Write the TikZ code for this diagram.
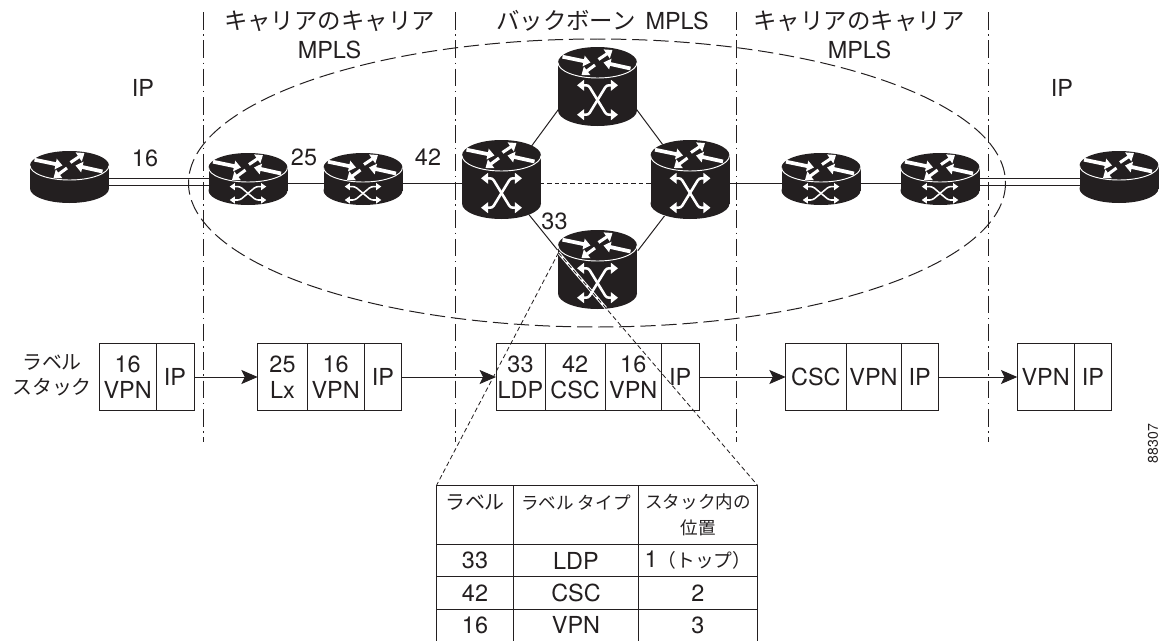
\documentclass[tikz,border=0pt]{standalone}
\usepackage{fontspec}
\setmainfont{TeX Gyre Heros}
\newfontfamily\jafont{Noto Sans CJK JP}
\usetikzlibrary{arrows.meta, calc, positioning}

\definecolor{ink}{HTML}{231F20}
\newcommand{\jatitle}{\fontsize{20}{23}\jafont}
\newcommand{\jalabel}{\fontsize{17}{21}\jafont}
\newcommand{\jahead}{\fontsize{15}{21}\jafont}

\tikzset{
  textfont/.style={font=\fontsize{20}{22.1}\selectfont},
  routerspot/.style={circle, inner sep=0pt, minimum size=2.64cm},
  stackcell/.style={draw, textfont, align=center, inner sep=0pt, outer sep=0pt,
    minimum width=0.03cm*#1, minimum height=2.03cm},
  tablecell/.style n args={2}{draw, textfont, align=center, inner sep=0pt, outer sep=0pt,
    minimum width=0.03cm*#1, minimum height=0.03cm*#2},
  stackarrow/.style={-{Stealth[length=14pt,width=12pt,inset=3pt]}},
  divider/.style={dash pattern=on 15pt off 4pt on 1.2pt off 4pt},
  callout/.style={line width=0.7pt, dash pattern=on 4pt off 2.5pt},
  roofarrow/.style={white, line width=3.2pt, -{Triangle[length=6pt,width=9pt]}},
  pics/routerbody/.style n args={2}{code={
    \fill[ink] (0,-#1) ellipse (39.5 and #2);
    \fill[ink] (-39.5,-#1) rectangle (39.5,#1);
    \fill[ink] (0,#1) ellipse (39.5 and #2);
    \draw[white, line width=0.8pt] (-39.5,-#1) arc[start angle=180, end angle=0, x radius=39.5, y radius=#2];
    \begin{scope}[shift={(0,-#1)}]
      \draw[roofarrow] (-35,-5.8) -- (-7,0);
      \draw[roofarrow] (33,6) -- (6,0);
      \draw[roofarrow, line width=2.6pt] (1,-3) -- (15,-12.5);
      \draw[roofarrow, line width=2.6pt] (-2.5,2.5) -- (-16,12.5);
    \end{scope}
  }},
  pics/edgerouter/.style={code={\pic {routerbody={11.5}{14.5}};}},
  pics/smallrouter/.style={code={
    \pic {routerbody={11.5}{14.5}};
    \begin{scope}[shift={(0,14.3)}, white, line width=1.3pt, rounded corners=2pt]
      \draw[{Triangle[length=4.5pt,width=6pt]}-{Triangle[length=4.5pt,width=6pt]}] (-18.3,-6.7) -- (-8,-6.7) -- (8,6.7) -- (18.3,6.7);
      \draw[{Triangle[length=4.5pt,width=6pt]}-{Triangle[length=4.5pt,width=6pt]}] (-18.3,6.7) -- (-8,6.7) -- (8,-6.7) -- (18.3,-6.7);
    \end{scope}
  }},
  pics/bigrouter/.style={code={
    \pic {routerbody={24}{15.5}};
    \begin{scope}[shift={(0,13.5)}, white, line width=2.2pt, rounded corners=2pt]
      \draw[{Triangle[length=6pt,width=9pt]}-{Triangle[length=6pt,width=9pt]}] (-20.5,-14.7) -- (-9,-14.7) -- (9,14.7) -- (20.5,14.7);
      \draw[{Triangle[length=6pt,width=9pt]}-{Triangle[length=6pt,width=9pt]}] (-20.5,14.7) -- (-9,14.7) -- (9,-14.7) -- (20.5,-14.7);
    \end{scope}
  }},
}

\begin{document}
\begin{tikzpicture}[x=0.03cm, y=-0.03cm, color=ink, line width=0.85pt]
\useasboundingbox (0,0) rectangle (1165,641);

% Spots that the routers stand on
\foreach \name/\x/\y in {edgeL/69.5/177, edgeR/1119/177, lerA/248/179, lerB/363/179, lerC/821/179, lerD/940/179,
  coreT/597.5/86.5, coreL/501.5/179.5, coreR/690/179.5, coreB/597.5/269.5}
  \node[routerspot] (\name) at (\x,\y) {};
\coordinate (singlerow) at (0,183);
\coordinate (upperrow) at (0,178);
\coordinate (lowerrow) at (0,185);

% MPLS area and the section dividers
\draw[dash pattern=on 13pt off 5pt] (597,183) ellipse (408.5 and 144);
\foreach \x in {203.5,455,736,988}
  \draw[divider] (\x,12) -- (\x,442);

% Links
\draw (edgeL |- upperrow) -- (lerA |- upperrow);
\draw (edgeL |- lowerrow) -- (lerA |- lowerrow);
\draw (lerD |- upperrow) -- (edgeR |- upperrow);
\draw (lerD |- lowerrow) -- (edgeR |- lowerrow);
\draw (lerA |- singlerow) -- (lerB |- singlerow);
\draw (lerB |- singlerow) -- (coreL |- singlerow);
\draw (coreR |- singlerow) -- (lerC |- singlerow);
\draw (lerC |- singlerow) -- (lerD |- singlerow);
\draw (coreT.210.3) -- (coreL.48.6);
\draw (coreT.-30.6) -- (coreR.128.6);
\draw (coreL.-52.7) -- (coreB.154.2);
\draw (coreR.235.2) -- (coreB.25);
\draw[dash pattern=on 4pt off 2.5pt] (coreL |- singlerow) -- (coreR |- singlerow);

% Routers
\foreach \name in {edgeL,edgeR}
  \pic at (\name) {edgerouter};
\foreach \name in {lerA,lerB,lerC,lerD}
  \pic at (\name) {smallrouter};
\foreach \name in {coreT,coreL,coreR,coreB}
  \pic at (\name) {bigrouter};

% Section titles
\node[font=\jatitle] (titleA) at (329.5,21) {キャリアのキャリア};
\node[textfont] (titleAb) at (329.5,50) {MPLS};
\node[font=\jatitle] (titleB) at (602.5,21) {バックボーン\hspace{4pt} \rmfamily\fontsize{20}{22.1}\selectfont MPLS};
\node[font=\jatitle] (titleC) at (859,21) {キャリアのキャリア};
\node[textfont] (titleCb) at (859.5,50) {MPLS};
\node[textfont] (ipL) at (143,88) {IP};
\node[textfont] (ipR) at (1062,88) {IP};

% Labels on the links
\node[textfont] (labelA) at (145,158) {16};
\node[textfont] (labelB) at (304,157) {25};
\node[textfont] (labelC) at (428,157) {42};
\node[textfont] (labelD) at (554.5,221) {33};

% Label stacks
\node[font=\jalabel, align=center] (stackname) at (52,375) {ラベル\\スタック};
\node[stackcell=56.7, anchor=west] (stackA1) at (99.3,377) {16\\VPN};
\node[stackcell=38, right=0pt of stackA1] (stackA2) {IP};
\node[stackcell=49.6, anchor=west] (stackB1) at (257.7,377) {25\\Lx};
\node[stackcell=56.7, right=0pt of stackB1] (stackB2) {16\\VPN};
\node[stackcell=37.7, right=0pt of stackB2] (stackB3) {IP};
\node[stackcell=49, anchor=west] (stackC1) at (496,377) {33\\LDP};
\node[stackcell=60.3, right=0pt of stackC1] (stackC2) {42\\CSC};
\node[stackcell=55.9, right=0pt of stackC2] (stackC3) {16\\VPN};
\node[stackcell=38.2, right=0pt of stackC3] (stackC4) {IP};
\node[stackcell=60.3, anchor=west] (stackD1) at (785.7,377) {CSC};
\node[stackcell=55, right=0pt of stackD1] (stackD2) {VPN};
\node[stackcell=37.3, right=0pt of stackD2] (stackD3) {IP};
\node[stackcell=56.7, anchor=west] (stackE1) at (1017.3,377) {VPN};
\node[stackcell=37.8, right=0pt of stackE1] (stackE2) {IP};

\draw[stackarrow] (stackA2) -- (stackB1);
\draw[stackarrow] (stackB3) -- (stackC1);
\draw[stackarrow] (stackC4) -- (stackD1);
\draw[stackarrow] (stackD3) -- (stackE1);

% Table of the labels
\node[tablecell={76.6}{59.3}, anchor=north west] (cell11) at (436.7,485) {{\jalabel ラベル}\\{}};
\node[tablecell={125.4}{59.3}, right=0pt of cell11] (cell12) {{\jahead ラベル タイプ}\\{}};
\node[tablecell={118.6}{59.3}, right=0pt of cell12] (cell13) {{\jahead スタック内の}\\{\jahead 位置}};
\node[tablecell={76.6}{32.4}, below=0pt of cell11] (cell21) {33};
\node[tablecell={125.4}{32.4}, below=0pt of cell12] (cell22) {LDP};
\node[tablecell={118.6}{32.4}, below=0pt of cell13] (cell23) {1{\fontsize{16}{21}\jafont（トップ）}};
\node[tablecell={76.6}{32.6}, below=0pt of cell21] (cell31) {42};
\node[tablecell={125.4}{32.6}, below=0pt of cell22] (cell32) {CSC};
\node[tablecell={118.6}{32.6}, below=0pt of cell23] (cell33) {2};
\node[tablecell={76.6}{31.7}, draw=none, below=0pt of cell31] (cell41) {16};
\node[tablecell={125.4}{31.7}, draw=none, below=0pt of cell32] (cell42) {VPN};
\node[tablecell={118.6}{31.7}, draw=none, below=0pt of cell33] (cell43) {3};
\draw (cell41.north west) -- (cell41.south west);
\draw (cell42.north west) -- (cell42.south west);
\draw (cell43.north west) -- (cell43.south west);
\draw (cell43.north east) -- (cell43.south east);

% Dashed lines from the router to the table
\coordinate (zoompoint) at (558.5,252.7);
\draw[white, line width=2.4pt] (zoompoint) -- ($(zoompoint)!0.238!(cell13.north east)$);
\draw[callout] (zoompoint) -- (cell11.north west);
\draw[callout] (zoompoint) -- (cell13.north east);

% Figure number
\node[rotate=90, font=\fontsize{12}{14}\selectfont] (fignum) at (1153,443.5) {88307};

\end{tikzpicture}
\end{document}
